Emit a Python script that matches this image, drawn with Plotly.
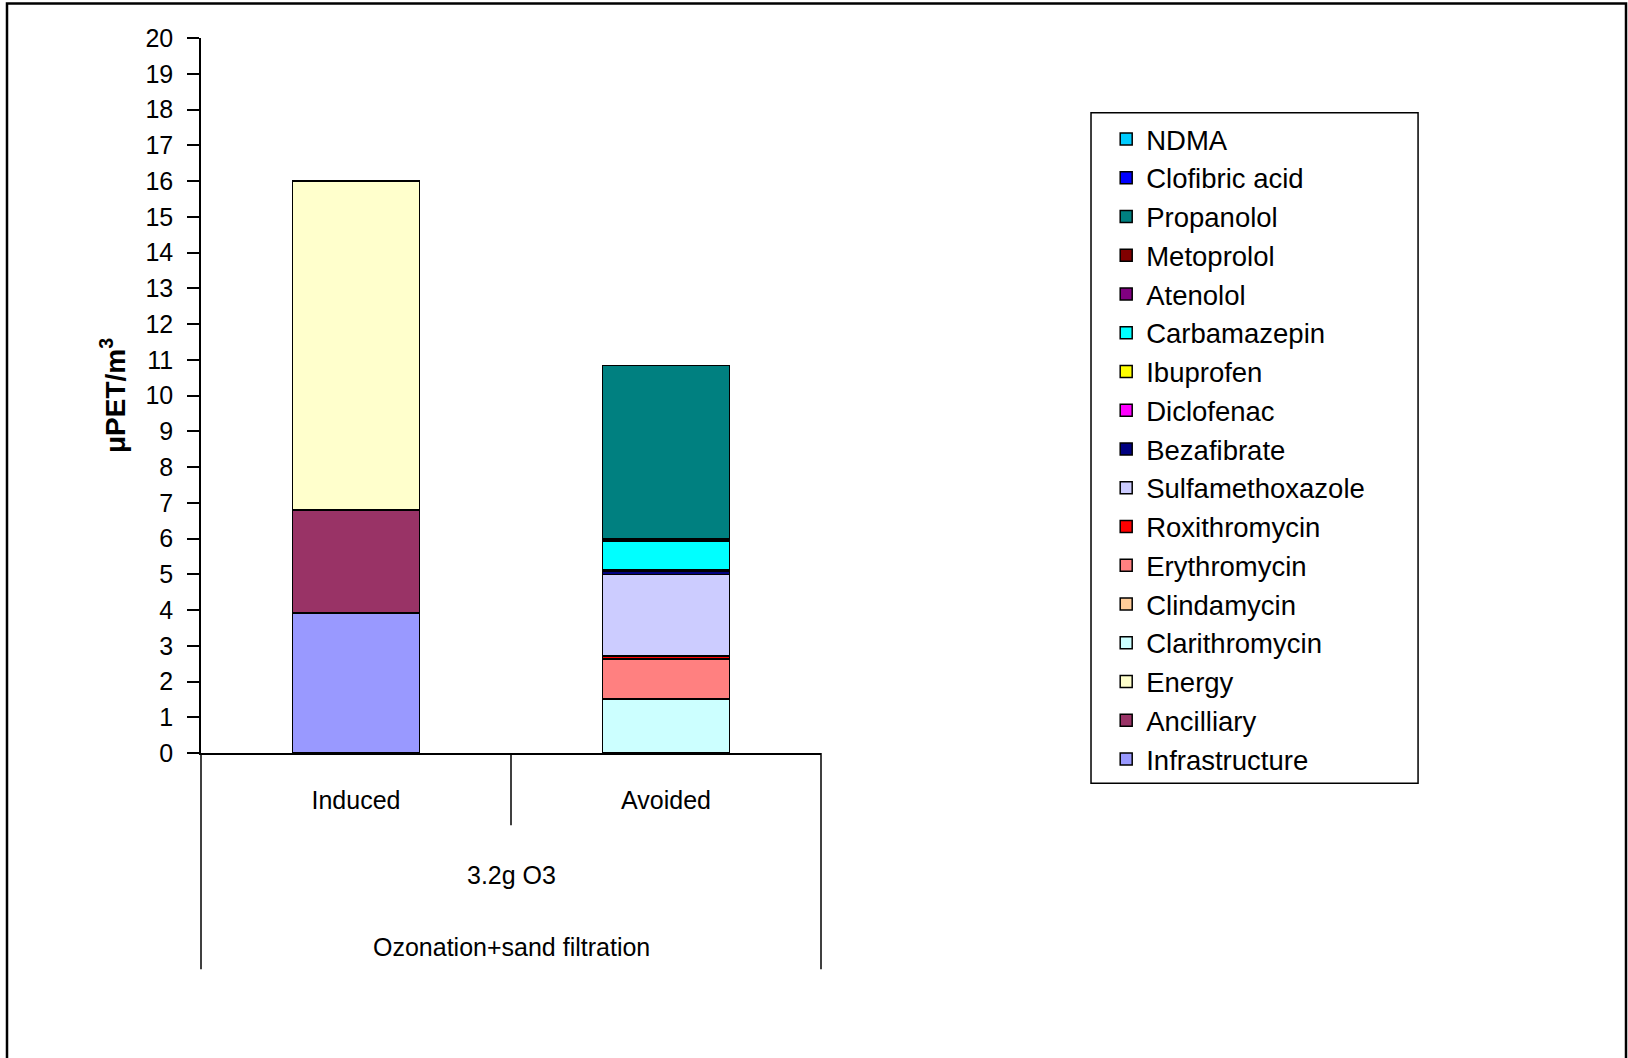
import plotly.graph_objects as go

categories = ["Induced", "Avoided"]

# stack order, bottom to top
series_names = ["Infrastructure", "Ancilliary", "Energy", "Clarithromycin", "Clindamycin",
                "Erythromycin", "Roxithromycin", "Sulfamethoxazole", "Bezafibrate", "Diclofenac",
                "Ibuprofen", "Carbamazepin", "Atenolol", "Metoprolol", "Propanolol",
                "Clofibric acid", "NDMA"]

infrastructure = [3.92, None]
ancilliary = [2.88, None]
energy = [9.2, None]
clarithromycin = [None, 1.51]
clindamycin = [None, 0.02]
erythromycin = [None, 1.10]
roxithromycin = [None, 0.08]
sulfamethoxazole = [None, 2.28]
bezafibrate = [None, 0.10]
diclofenac = [None, 0.02]
ibuprofen = [None, 0.01]
carbamazepin = [None, 0.80]
atenolol = [None, 0.04]
metoprolol = [None, 0.03]
propanolol = [None, 4.85]
clofibric_acid = [None, 0.0]
ndma = [None, 0.0]

series_values = [infrastructure, ancilliary, energy, clarithromycin, clindamycin,
                 erythromycin, roxithromycin, sulfamethoxazole, bezafibrate, diclofenac,
                 ibuprofen, carbamazepin, atenolol, metoprolol, propanolol,
                 clofibric_acid, ndma]

colors = ["#9999FF", "#993366", "#FFFFCC", "#CCFFFF", "#FFCC99",
          "#FF8080", "#FF0000", "#CCCCFF", "#000080", "#FF00FF",
          "#FFFF00", "#00FFFF", "#800080", "#800000", "#008080",
          "#0000FF", "#00CCFF"]

font_family = "Liberation Sans, Arial, sans-serif"

fig = go.Figure()
for name, vals, col in zip(series_names, series_values, colors):
    fig.add_trace(go.Bar(x=categories, y=vals, name=name,
                         marker=dict(color=col, line=dict(color="black", width=1.5))))

fig.update_layout(
    barmode="stack",
    bargap=0.59,
    width=1628, height=1058,
    margin=dict(l=201, r=807, t=38, b=305),
    plot_bgcolor="white", paper_bgcolor="white",
    showlegend=True,
    legend=dict(x=1.46, y=0.893, xanchor="left", yanchor="top",
                traceorder="reversed", borderwidth=0, bgcolor="rgba(0,0,0,0)",
                font=dict(family=font_family, size=27.5, color="black"),
                tracegroupgap=0),
)

fig.update_yaxes(range=[0, 20], dtick=1, tick0=0, showgrid=False, zeroline=False,
                 showline=True, linecolor="black", linewidth=1.5,
                 ticks="outside", ticklen=12, tickcolor="black", tickwidth=1.5,
                 ticklabelstandoff=9,
                 tickfont=dict(family=font_family, size=25, color="black"),
                 title=dict(text="<b>μPET/m<sup>3</sup></b>",
                            font=dict(family=font_family, size=28, color="black"), standoff=12))

fig.update_xaxes(type="category", showgrid=False, showline=True, linecolor="black",
                 linewidth=1.5, ticks="", ticklabelstandoff=24,
                 tickfont=dict(family=font_family, size=25, color="black"))

# category dividers below the axis
for x0, y1 in [(0, -0.3026), (0.5, -0.101), (1, -0.3026)]:
    fig.add_shape(type="line", xref="paper", yref="paper", x0=x0, x1=x0, y0=0, y1=y1,
                  line=dict(color="black", width=1.5))

fig.add_annotation(text="3.2g O3", xref="paper", yref="paper", x=0.5, y=-0.171,
                   yanchor="middle", showarrow=False,
                   font=dict(family=font_family, size=25, color="black"))
fig.add_annotation(text="Ozonation+sand filtration", xref="paper", yref="paper", x=0.5, y=-0.272,
                   yanchor="middle", showarrow=False,
                   font=dict(family=font_family, size=25, color="black"))

# legend box
fig.add_shape(type="rect", xref="paper", yref="paper", x0=1.4355, x1=1.963, y0=-0.0423, y1=0.8956,
              line=dict(color="black", width=1.5))

# outer chart frame
fig.add_shape(type="rect", xref="paper", yref="paper", x0=-0.3129, x1=2.2984, y0=-0.46, y1=1.0482,
              line=dict(color="black", width=2.5))

fig.write_html("out.html", config={"displayModeBar": False},
               post_script="document.body.style.margin='0';")
